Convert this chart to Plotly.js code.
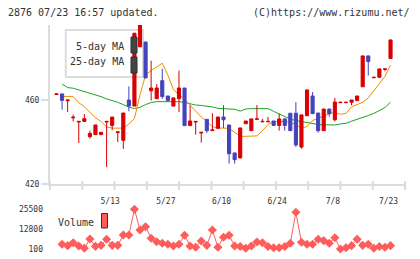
<!DOCTYPE html>
<html>
<head>
<meta charset="utf-8">
<script src="https://cdn.plot.ly/plotly-3.0.1.min.js"></script>
<style>
  html, body { margin: 0; padding: 0; background: #ffffff; }
  #chart { width: 420px; height: 259px; }
</style>
</head>
<body>
<div id="chart"></div>
<script>
// Daily prices of 2876, 2024-04-24 .. 2024-07-23 (trading days only)
const dates = [
  '4/24','4/25','4/26','4/30','5/1','5/2','5/7','5/8','5/9','5/10',
  '5/13','5/14','5/15','5/16','5/17','5/20','5/21','5/22','5/23','5/24',
  '5/27','5/28','5/29','5/30','5/31','6/3','6/4','6/5','6/6','6/7',
  '6/10','6/11','6/12','6/13','6/14','6/17','6/18','6/19','6/20','6/21',
  '6/24','6/25','6/26','6/27','6/28','7/1','7/2','7/3','7/4','7/5',
  '7/8','7/9','7/10','7/11','7/12','7/16','7/17','7/18','7/19','7/22',
  '7/23'
];

const openPrices = [
  462.6, 462.9, 459.6, 451.5, 449.5, 449.8, 442.5, 443.5, 443.5, 449.5,
  447.9, 444.5, 440.8, 460.0, 457.1, 485.3, 487.6, 464.4, 460.6, 469.2,
  461.9, 457.1, 460.6, 465.7, 447.8, 449.5, 444.3, 450.8, 445.4, 446.5,
  451.9, 448.1, 434.8, 432.4, 448.7, 445.4, 450.8, 449.6, 449.6, 450.0,
  447.9, 451.0, 453.7, 453.7, 437.6, 452.5, 461.9, 453.8, 445.4, 455.7,
  450.6, 458.7, 458.7, 458.9, 459.7, 466.3, 481.0, 470.6, 470.8, 474.6,
  479.7
];
const highPrices = [
  462.9, 462.9, 460.0, 453.0, 449.8, 453.3, 445.4, 448.1, 444.6, 449.8,
  451.9, 444.8, 453.8, 466.5, 491.8, 495.7, 487.6, 478.7, 467.6, 474.9,
  461.9, 461.0, 474.0, 465.7, 457.5, 449.8, 444.6, 450.8, 453.7, 451.9,
  457.5, 448.1, 434.8, 446.7, 450.0, 451.0, 457.6, 451.0, 451.9, 450.0,
  453.5, 451.0, 453.7, 459.0, 452.9, 464.8, 463.8, 453.8, 455.7, 455.7,
  461.0, 458.9, 458.9, 460.0, 461.9, 481.0, 481.0, 470.8, 474.8, 474.8,
  488.6
];
const lowPrices = [
  462.6, 455.4, 454.3, 449.8, 439.5, 449.8, 441.6, 443.5, 443.5, 428.0,
  445.6, 440.0, 436.7, 454.6, 457.1, 485.3, 470.5, 459.7, 460.6, 460.6,
  459.7, 457.1, 454.3, 447.8, 447.8, 443.5, 439.7, 444.3, 445.4, 446.5,
  446.7, 429.7, 429.7, 432.4, 448.7, 445.4, 450.8, 449.6, 449.6, 447.9,
  445.4, 445.4, 445.4, 437.6, 436.8, 452.5, 453.5, 444.4, 445.4, 452.1,
  449.8, 458.7, 458.7, 457.5, 459.7, 466.3, 471.6, 470.6, 470.8, 473.7,
  479.7
];
const closePrices = [
  462.9, 459.8, 460.0, 451.8, 449.8, 451.1, 444.1, 448.1, 444.6, 449.8,
  451.9, 444.8, 453.8, 457.1, 491.8, 495.7, 470.5, 465.7, 465.7, 461.6,
  459.7, 461.0, 465.7, 447.8, 450.0, 449.8, 444.6, 445.4, 445.7, 451.9,
  450.6, 434.4, 431.6, 446.7, 450.0, 451.0, 451.0, 449.8, 449.8, 447.9,
  451.0, 447.9, 445.4, 438.6, 452.9, 464.8, 453.5, 445.4, 455.7, 453.5,
  459.0, 458.9, 458.9, 460.0, 461.9, 481.0, 478.3, 470.8, 474.8, 474.8,
  488.6
];

// Moving averages as published with the chart
const ma5 = [
  null, 461.7, 461.7, 461.7, 458.7, 456.8, 454.1, 451.6, 449.7, 447.2,
  446.6, 446.6, 446.6, 448.6, 451.2, 462.5, 471.9, 474.0, 475.9, 477.5,
  471.9, 465.0, 462.5, 460.5, 457.5, 454.7, 451.9, 449.7, 447.3, 446.7,
  446.7, 446.5, 444.6, 442.7, 442.7, 442.7, 442.9, 445.4, 448.3, 449.8,
  449.9, 449.8, 449.3, 448.4, 446.5, 447.4, 450.2, 451.3, 452.7, 453.5,
  454.0, 453.2, 453.6, 456.8, 457.8, 458.9, 461.0, 464.5, 468.2, 471.2,
  476.7
];
const ma25 = [
  null, 467.6, 465.9, 465.6, 464.8, 464.2, 463.4, 462.5, 461.6, 460.5,
  459.8, 458.9, 457.8, 456.6, 455.9, 456.5, 457.8, 458.8, 459.2, 459.2,
  459.2, 459.2, 459.2, 458.8, 458.2, 457.6, 457.4, 457.1, 456.7, 456.0,
  455.9, 455.9, 455.6, 454.7, 455.7, 455.9, 455.9, 455.9, 455.9, 454.6,
  453.4, 452.0, 450.9, 450.2, 449.7, 449.2, 448.8, 448.3, 448.2, 448.1,
  448.1, 448.6, 448.9, 449.9, 450.7, 451.5, 452.6, 453.6, 455.0, 456.4,
  459.0
];

const volumes = [
  null, 3100, 2230, 4130, 2020, 550, 6500, 1800, 2450, 6300,
  2450, 2450, 9060, 9060, 25500, 12260, 14370, 6930, 4770, 3750,
  3100, 2020, 3100, 8870, 2020, 1190, 5220, 2450, 12260, 1190,
  7590, 8870, 2020, 1680, 550, 2020, 4580, 4130, 1680, 930,
  930, 1680, 3750, 23580, 4390, 3100, 3100, 6300, 5430, 3750,
  7330, 100, 930, 2230, 6300, 2450, 3100, 550, 1680, 1190,
  2230
];

const dateTickLabels = ['5/13', '5/27', '6/10', '6/24', '7/8', '7/23'];
const priceTicks = [420, 460];
const volumeTicks = [100, 12800, 25500];

// ---- drawing ----
const idx = dates.map((d, i) => i);
const tickIdx = dateTickLabels.map(t => dates.indexOf(t));

const UP = '#d80000', DOWN = '#4343bd';
const ORANGE = '#f08c00', GREEN = '#1ea51e', VOL = '#ff5c5c';
const GRID = '#dcdcdc', TXT = '#333333';
const MONO = 'DejaVu Sans Mono, monospace';

// pixel helpers for the fixed 420x259 frame (plot area x 50..405, y 25..249)
const L = 50, R = 405, T = 25, B = 249;
const px = x => (x - L) / (R - L);
const py = y => (B - y) / (B - T);

const xRange = [-1.168, 62.6];

const traces = [
  { x: idx, y: ma25, type: 'scatter', mode: 'lines', xaxis: 'x', yaxis: 'y',
    line: { color: GREEN, width: 1 }, hoverinfo: 'skip' },
  { x: idx, y: ma5, type: 'scatter', mode: 'lines', xaxis: 'x', yaxis: 'y',
    line: { color: ORANGE, width: 1 }, hoverinfo: 'skip' },
  { x: idx, open: openPrices, high: highPrices, low: lowPrices, close: closePrices,
    type: 'candlestick', xaxis: 'x3', yaxis: 'y3', whiskerwidth: 0,
    increasing: { line: { color: UP, width: 1 }, fillcolor: UP },
    decreasing: { line: { color: DOWN, width: 1 }, fillcolor: DOWN },
    hoverinfo: 'skip' },
  { x: idx, y: volumes, type: 'scatter', mode: 'lines+markers', xaxis: 'x2', yaxis: 'y2',
    line: { color: VOL, width: 1 }, cliponaxis: false,
    marker: { symbol: 'diamond', size: 7, color: VOL }, hoverinfo: 'skip' }
];

const priceDomain = [py(184), 1];
const volDomain = [0, py(209.3)];

const shapes = [];
// evenly spaced tick marks on the date axis
for (let k = 0; k <= 11; k++) {
  shapes.push({ type: 'line', xref: 'paper', yref: 'paper', layer: 'above',
    x0: k / 11, x1: k / 11, y0: py(181), y1: py(190),
    line: { color: GRID, width: 2 } });
}
// legend frame for the moving averages
shapes.push({ type: 'rect', xref: 'paper', yref: 'paper', layer: 'below',
  x0: px(65.7), x1: px(143), y0: py(77), y1: py(30),
  line: { color: GRID, width: 2 }, fillcolor: 'rgba(255,255,255,0)' });
shapes.push({ type: 'rect', xref: 'paper', yref: 'paper', layer: 'above',
  x0: px(131), x1: px(137), y0: py(53), y1: py(37),
  line: { color: '#2e2e2e', width: 1 }, fillcolor: '#444444' });
shapes.push({ type: 'rect', xref: 'paper', yref: 'paper', layer: 'above',
  x0: px(131), x1: px(137), y0: py(73), y1: py(57),
  line: { color: '#2e2e2e', width: 1 }, fillcolor: '#444444' });
// volume legend swatch
shapes.push({ type: 'rect', xref: 'paper', yref: 'paper', layer: 'above',
  x0: px(101.5), x1: px(107.5), y0: py(228), y1: py(213.5),
  line: { color: '#333333', width: 1 }, fillcolor: VOL });

const ann = (text, x, y, anchor, size) => ({
  text, xref: 'paper', yref: 'paper', x: px(x), y: py(y),
  xanchor: anchor, yanchor: 'middle', showarrow: false,
  font: { family: MONO, size: size, color: TXT }, borderpad: 0
});

const annotations = [
  ann('2876 07/23 16:57 updated.', 7, 12, 'left', 10),
  ann('(C)https://www.rizumu.net/', 411, 12, 'right', 10),
  ann('5-day MA', 125, 46, 'right', 10),
  ann('25-day MA', 125, 62, 'right', 10),
  ann('Volume', 95, 222, 'right', 10)
];

const layout = {
  width: 420, height: 259,
  margin: { l: L, r: 420 - R, t: T, b: 259 - B, pad: 0 },
  paper_bgcolor: '#ffffff', plot_bgcolor: 'rgba(0,0,0,0)',
  showlegend: false,
  font: { family: MONO, size: 8, color: TXT },
  xaxis: { domain: [0, 1], anchor: 'y', range: xRange, fixedrange: true,
    showline: true, linecolor: GRID, linewidth: 2, showgrid: false, zeroline: false,
    tickmode: 'array', tickvals: tickIdx, ticktext: dateTickLabels,
    ticks: '', ticklabelstandoff: 8, ticklabelshift: -2,
    tickfont: { family: MONO, size: 8, color: TXT } },
  yaxis: { domain: priceDomain, anchor: 'x', range: [420, 495.7], fixedrange: true,
    showline: true, linecolor: GRID, linewidth: 2, showgrid: false, zeroline: false,
    tickmode: 'array', tickvals: priceTicks, ticktext: priceTicks.map(String),
    ticks: 'outside', ticklen: 7, tickwidth: 2, tickcolor: GRID,
    tickfont: { family: MONO, size: 8, color: TXT } },
  xaxis3: { overlaying: 'x', anchor: 'y3', range: xRange, visible: false,
    fixedrange: true, rangeslider: { visible: false } },
  yaxis3: { overlaying: 'y', anchor: 'x3', range: [420, 495.7], visible: false,
    fixedrange: true },
  xaxis2: { domain: [0, 1], anchor: 'y2', range: xRange, visible: false, fixedrange: true },
  yaxis2: { domain: volDomain, anchor: 'x2', range: [100, 25500], fixedrange: true,
    showline: false, showgrid: false, zeroline: false,
    tickmode: 'array', tickvals: volumeTicks, ticktext: volumeTicks.map(String),
    ticks: '', ticklabelstandoff: 6,
    tickfont: { family: MONO, size: 8, color: TXT } },
  boxgap: 0.2,
  shapes, annotations
};

Plotly.newPlot('chart', traces, layout, { staticPlot: true, displayModeBar: false });
</script>
</body>
</html>
